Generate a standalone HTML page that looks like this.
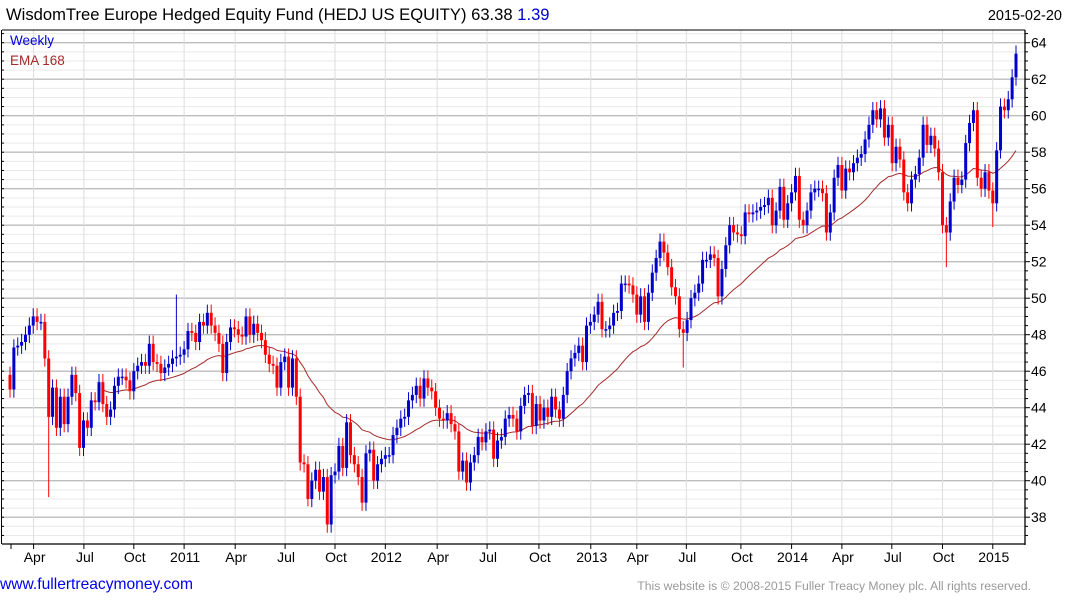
<!DOCTYPE html>
<html><head><meta charset="utf-8">
<style>
body{margin:0;background:#fff;width:1075px;height:600px;overflow:hidden;font-family:"Liberation Sans",sans-serif;}
svg{display:block}
</style></head>
<body>
<svg id="chart" width="1075" height="600" xmlns="http://www.w3.org/2000/svg">
<text x="6" y="20" font-size="16.6" fill="#000">WisdomTree Europe Hedged Equity Fund (HEDJ US EQUITY) 63.38 <tspan fill="#0000cc">1.39</tspan></text>
<text x="1062" y="20" font-size="14.5" text-anchor="end" fill="#000">2015-02-20</text>
<g id="grid"></g>
<g id="ema"></g>
<g id="candles"></g>
<g id="axes"></g>
<text x="10" y="45" font-size="13.5" fill="#0000dd">Weekly</text>
<text x="10" y="65" font-size="13.5" fill="#a52a2a">EMA 168</text>
<text x="0" y="589" font-size="15.6" fill="#0000ee">www.fullertreacymoney.com</text>
<text x="1031" y="590" font-size="12.2" text-anchor="end" fill="#999">This website is © 2008-2015 Fuller Treacy Money plc. All rights reserved.</text>
</svg>
<script>
const closes = [45,47.3,47.4,47.6,48.0,48.5,49,48.7,48.7,46.7,43.5,45.1,42.9,44.6,43.1,44.6,45.8,44.8,41.8,43.3,42.9,44.4,44.3,45.4,44.2,43.5,43.9,45.2,45.7,45.7,45.5,44.9,46.0,
46.3,46.5,46.3,47.5,46.5,46.4,45.9,46.2,46.4,46.7,46.8,46.9,47.2,48.2,48.1,47.6,48.7,48.5,49.2,48.5,48.1,47.5,45.9,47.6,48.4,48.3,48.0,47.9,49.0,48.0,48.6,48.1,47.7,46.9,46.4,46.3,
45.1,46.5,46.8,45.1,46.7,44.6,41.0,40.9,39.0,40.0,40.6,39.4,40.2,37.6,40.3,40.5,41.9,40.7,43.2,41.4,40.9,40.2,38.8,41.5,41.7,40.0,40.9,41.2,41.4,41.4,42.5,42.9,43.4,43.5,44.4,
44.7,45.2,44.5,45.6,45.1,44.9,44.0,43.4,43.3,43.7,43.1,42.7,40.5,41.1,39.9,41.0,41.4,42.4,42.1,42.7,42.8,41.2,42.2,42.4,43.4,43.6,43.4,42.7,44.1,44.7,44.8,43.0,44.2,43.3,44.0,43.5,44.6,43.9,43.4,44.7,
46.0,46.7,47.0,47.4,46.5,48.5,48.7,49.1,49.8,48.3,48.3,48.5,49.2,49.3,50.8,50.8,50.7,50.2,49.1,50.1,48.7,50.3,51.4,52.2,53.1,52.5,51.7,50.6,50.1,48.3,48.1,48.8,50.0,50.3,50.8,52.1,52.1,52.4,52.2,50.1,
51.6,52.9,54.0,53.6,53.5,53.4,54.7,54.6,54.7,54.8,55.0,55.1,55.5,54.0,54.8,56.1,54.3,55.2,55.8,56.7,54.3,54.0,54.8,55.8,56.0,56.0,55.75,53.6,54.7,56.6,57.3,55.9,57.1,56.9,57.4,57.7,57.9,58.7,59.5,60.3,59.8,60.4,58.8,59.5,57.4,58.3,57.6,55.8,55.2,56.5,
56.8,57.7,59.5,58.4,58.9,58.2,56.9,54.0,53.6,55.3,56.6,56.2,56.5,58.5,59.6,60.3,56.6,56.0,56.9,55.9,55.2,58.1,60.5,60.3,60.9,62.1,63.4];
const firstOpen = [45.8];
const spikeIdx = [10,43,174,242,254,77];
const spikeHigh = [null,50.2,null,null,null,null];
const spikeLow = [39.1,null,46.2,51.7,53.9,38.6];
const priceTicks = [38,40,42,44,46,48,50,52,54,56,58,60,62,64];
const tickLabels = ["Apr","Jul","Oct","2011","Apr","Jul","Oct","2012","Apr","Jul","Oct","2013","Apr","Jul","Oct","2014","Apr","Jul","Oct","2015"];
const tickWeeks = [6.1,19.1,32,45,58.2,71.1,84,97,110.4,123.3,136.7,150.1,162,174.8,188.9,202,215,227.9,241,254];
const emaPeriod = [34];

const NS="http://www.w3.org/2000/svg";
const L=2, R=1025, T=30, B=544;
function xs(i){return 10 + i*(1006/(closes.length-1));}
function ys(p){return 42.7 + (64-p)*18.25;}
function mk(tag,attrs,parent){const e=document.createElementNS(NS,tag);for(const k in attrs)e.setAttribute(k,attrs[k]);parent.appendChild(e);return e;}

const grid=document.getElementById('grid');
for(let p=37;p<=64.5;p+=0.5){
  const y=ys(p); if(y<T||y>B) continue;
  const major = Math.abs(p%2)<1e-6;
  const l=mk('line',{x1:L,x2:R,y1:y,y2:y,stroke:major?'#bdbdbd':'#e9e9e9','stroke-width':major?1.3:1},grid);
  
  
}
tickWeeks.forEach((w,k)=>{
  const x=xs(w);
  const l=mk('line',{x1:x,x2:x,y1:T,y2:B,stroke:'#dddddd','stroke-width':1},grid);
  
  
});

const a=2/(emaPeriod[0]+1);
let e=closes[0]; const pts=[];
closes.forEach((c,i)=>{ e = i===0?c:(c*a+e*(1-a)); if(i>=24) pts.push(xs(i).toFixed(1)+','+ys(e).toFixed(1)); });
const emaLine=mk('polyline',{points:pts.join(' '),fill:'none',stroke:'#a52a2a','stroke-width':1},document.getElementById('ema'));



const cg=document.getElementById('candles');
closes.forEach((c,i)=>{
  const o = i===0?firstOpen[0]:closes[i-1];
  const up = c>=o;
  const col = up?'#0000cc':'#ff0000';
  let hi=Math.max(o,c)+0.45, lo=Math.min(o,c)-0.45;
  const s=spikeIdx.indexOf(i);
  if(s>=0){ if(spikeHigh[s]!==null) hi=spikeHigh[s]; if(spikeLow[s]!==null) lo=spikeLow[s]; }
  const x=xs(i);
  const g=mk('g',{},cg);
  
  
  mk('line',{x1:x,x2:x,y1:ys(hi),y2:ys(lo),stroke:col,'stroke-width':1},g);
  const yt=ys(Math.max(o,c)), yb=ys(Math.min(o,c));
  mk('rect',{x:x-1.5,y:yt,width:3,height:Math.max(1.5,yb-yt),fill:col},g);
});

const ax=document.getElementById('axes');
let l1=mk('line',{x1:R,x2:R,y1:T,y2:B+1,stroke:'#000','stroke-width':1.3},ax);


let l2=mk('line',{x1:L,x2:R,y1:B,y2:B,stroke:'#000','stroke-width':1.3},ax);


let l3=mk('line',{x1:1.5,x2:1.5,y1:T,y2:B,stroke:'#000','stroke-width':1},ax);


let l4=mk('line',{x1:L,x2:R,y1:T,y2:T,stroke:'#000','stroke-width':1},ax);


for(let p=37;p<=64.5;p+=0.5){
  const y=ys(p); if(y<T||y>B) continue;
  mk('line',{x1:R,x2:R+(p%2===0?5:3),y1:y,y2:y,stroke:'#000','stroke-width':1},ax);
  mk('line',{x1:1.5,x2:4,y1:y,y2:y,stroke:'#000','stroke-width':1},ax);
}
priceTicks.forEach(p=>{
  const t=mk('text',{x:R+6,y:ys(p)+5,'font-size':14,fill:'#000'},ax);
  t.textContent=p;
  
  
});
mk('line',{x1:11,x2:11,y1:B,y2:B+5,stroke:'#000'},ax);
tickWeeks.forEach((w,k)=>{
  const x=xs(w);
  mk('line',{x1:x,x2:x,y1:B,y2:B+5,stroke:'#000','stroke-width':1},ax);
  const t=mk('text',{x:x+1,y:B+18,'font-size':14,'text-anchor':'middle',fill:'#000'},ax);
  t.textContent=tickLabels[k];
  
  
});
</script>
</body></html>
